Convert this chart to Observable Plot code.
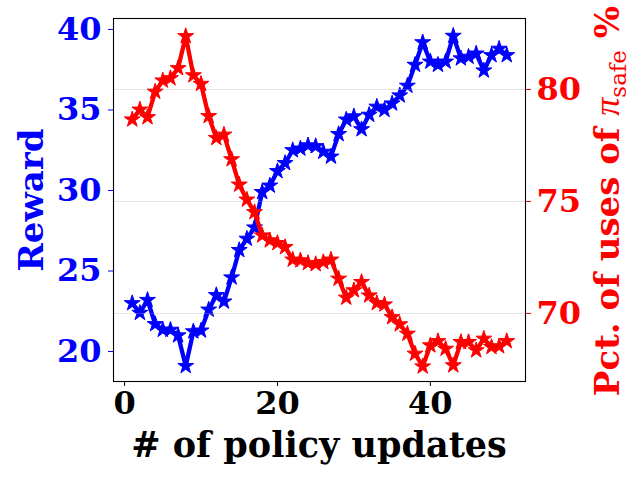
<!DOCTYPE html>
<html><head><meta charset="utf-8">
<script src="https://cdn.jsdelivr.net/npm/d3@7"></script>
<script src="https://cdn.jsdelivr.net/npm/@observablehq/plot@0.6"></script>
<style>
body{margin:0;background:#fff}
#wrap{position:relative;width:640px;height:480px}
#wrap svg{position:absolute;left:0;top:0}
</style>
</head><body><div id="wrap"></div>
<script>
const updates = [1,2,3,4,5,6,7,8,9,10,11,12,13,14,15,16,17,18,19,20,21,22,23,24,25,26,27,28,29,30,31,32,33,34,35,36,37,38,39,40,41,42,43,44,45,46,47,48,49,50];
const reward = [23.0,22.4,23.2,21.7,21.35,21.35,21.0,19.1,21.25,21.3,22.6,23.5,23.1,24.6,26.3,27.0,27.7,29.9,30.3,31.2,31.7,32.5,32.6,32.8,32.75,32.4,32.1,33.5,34.4,34.6,33.8,34.7,35.2,35.0,35.4,35.9,36.5,37.8,39.2,38.0,37.8,38.0,39.6,38.2,38.3,38.5,37.45,38.4,38.8,38.4];
const pctSafe = [78.66,79.1,78.76,79.9,80.4,80.5,80.95,82.38,80.63,80.25,78.81,77.83,77.98,76.88,75.75,75.08,74.52,73.48,73.26,73.14,72.96,72.4,72.37,72.25,72.2,72.29,72.4,71.55,70.7,71.03,71.4,70.8,70.46,70.4,69.83,69.51,69.09,68.2,67.63,68.57,68.76,68.42,67.68,68.72,68.72,68.35,68.87,68.5,68.53,68.76];
const xTicks = [0,20,40];
const rewardTicks = [20,25,30,35,40];
const pctTicks = [70,75,80];

const rewardData = updates.map((u,i)=>({u, v: reward[i]}));
const pctData = updates.map((u,i)=>({u, v: pctSafe[i]}));

const common = {
  width: 640, height: 480,
  marginLeft: 113, marginRight: 115, marginTop: 18, marginBottom: 99,
  style: {fontFamily: "DejaVu Serif", background: "transparent"}
};
const font = {fontSize: 32, fontWeight: "bold", fontFamily: "DejaVu Serif"};

const plotA = Plot.plot({
  ...common,
  x: {domain: [-1.45, 52.45]},
  y: {domain: [18.14, 40.68]},
  marks: [
    Plot.axisX({ticks: xTicks, tickSize: 5, tickPadding: 5, label: null, stroke: "black", fill: "black", ...font}),
    Plot.axisY({ticks: rewardTicks, tickSize: 5, tickPadding: 7, label: null, stroke: "blue", fill: "blue", ...font}),
    Plot.line(rewardData, {x: "u", y: "v", stroke: "blue", strokeWidth: 4.3}),
    Plot.dot(rewardData, {x: "u", y: "v", symbol: "star", r: 5, fill: "blue", stroke: "blue", strokeWidth: 1})
  ]
});

const plotB = Plot.plot({
  ...common,
  x: {domain: [-1.45, 52.45], axis: null},
  y: {domain: [66.96, 83.17]},
  marks: [
    Plot.gridY(pctTicks, {stroke: "#b0b0b0", strokeOpacity: 0.35, strokeWidth: 1}),
    Plot.axisY({anchor: "right", ticks: pctTicks, tickSize: 5, tickPadding: 6, label: null, stroke: "red", fill: "red", ...font}),
    Plot.line(pctData, {x: "u", y: "v", stroke: "red", strokeWidth: 4.3}),
    Plot.dot(pctData, {x: "u", y: "v", symbol: "star", r: 5, fill: "red", stroke: "red", strokeWidth: 1}),
    Plot.frame({stroke: "black", strokeWidth: 1.1})
  ]
});

const wrap = document.getElementById("wrap");
wrap.appendChild(plotA);
wrap.appendChild(plotB);

// Axis titles
const sa = d3.select(plotA);
sa.append("text")
  .attr("x", 319).attr("y", 457)
  .attr("text-anchor", "middle")
  .attr("font-family", "DejaVu Serif").attr("font-weight", "bold").attr("font-size", 35)
  .attr("fill", "black")
  .text("# of policy updates");
sa.append("text")
  .attr("transform", "translate(43,200) rotate(-90)")
  .attr("text-anchor", "middle")
  .attr("font-family", "DejaVu Serif").attr("font-weight", "bold").attr("font-size", 34)
  .attr("fill", "blue")
  .text("Reward");

const sb = d3.select(plotB);
const t = sb.append("text")
  .attr("transform", "translate(619,201) rotate(-90)")
  .attr("text-anchor", "middle")
  .attr("font-family", "DejaVu Serif").attr("font-size", 34)
  .attr("fill", "red");
t.append("tspan").attr("font-weight", "bold").text("Pct. of uses of ");
t.append("tspan").attr("font-style", "italic").attr("font-family", "Liberation Serif").attr("font-size", 36).text("π");
t.append("tspan").attr("font-size", 23).attr("dy", 7).text("safe");
t.append("tspan").attr("font-weight", "bold").attr("dy", -7).text(" %");
</script>
</body></html>
